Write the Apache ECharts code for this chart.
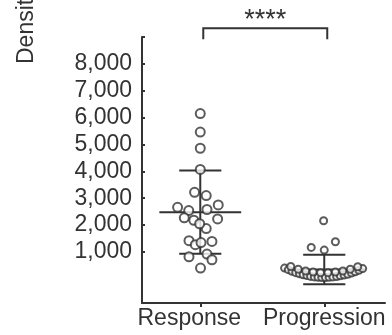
<!DOCTYPE html>
<html><head><meta charset="utf-8">
<script src="https://cdn.jsdelivr.net/npm/echarts@6/dist/echarts.min.js"></script>
<style>html,body{margin:0;padding:0;background:#fff}#c{width:392px;height:335px}</style>
</head><body><div id="c"></div>
<script>
const categories = ['Response', 'Progression'];
const yTickLabels = [1000, 2000, 3000, 4000, 5000, 6000, 7000, 8000];
const yTicks = [1000, 2000, 3000, 4000, 5000, 6000, 7000, 8000, 9000];
const yTitle = 'Density (cells/mm²)';
const significance = '****';
// Response: [horizontal jitter within group, value]
const responseJitter = [0.00, 0.00, 0.00, 0.00, -0.046, 0.048, 0.145, -0.183, -0.093, 0.054, -0.129, -0.052, 0.14, 0.048, -0.091, -0.04, 0.006, 0.094, -0.091, 0.054, 0.094, 0.002, -0.005];
const responseValues = [6150, 5460, 4860, 4070, 3220, 3100, 2750, 2660, 2540, 2580, 2270, 2180, 2230, 1870, 1420, 1270, 1350, 1390, 820, 920, 710, 400, 2050];
const progressionJitter = [-0.005, -0.105, 0.0, 0.09,
  -0.32, -0.29, -0.26, -0.23, -0.20, -0.17, -0.14, -0.11, -0.08, -0.05, -0.02, 0.01, 0.04, 0.07, 0.10, 0.13, 0.16, 0.19, 0.22, 0.25, 0.28, 0.31,
  -0.27, -0.21, -0.15, -0.09, -0.03, 0.03, 0.09, 0.15, 0.21, 0.27];
const progressionValues = [2160, 1170, 1070, 1380,
  400, 340, 280, 230, 190, 150, 120, 90, 70, 60, 50, 50, 55, 70, 85, 110, 140, 170, 215, 265, 320, 380,
  460, 360, 290, 250, 230, 230, 250, 290, 360, 450];
const means = [2480, 350];
const sds = [1550, 550];

const groupPos = [1, 2];
const respData = responseValues.map((v, i) => [groupPos[0] + responseJitter[i], v]);
const progData = progressionValues.map((v, i) => [groupPos[1] + progressionJitter[i], v]);
const errData = means.map((m, i) => [groupPos[i], m, sds[i]]);

const ink = '#333';
const chart = echarts.init(document.getElementById('c'));
const font = 'Liberation Sans, Arial, sans-serif';
chart.setOption({
  animation: false,
  grid: {left: 142, right: 7, top: 37, bottom: 32, containLabel: false},
  xAxis: {
    type: 'value', min: 0.53, max: 2.49,
    splitLine: {show: false},
    axisLine: {onZero: false, lineStyle: {color: ink, width: 2}},
    axisTick: {show: true, customValues: groupPos, length: 4, lineStyle: {color: ink, width: 2}},
    axisLabel: {
      customValues: groupPos, margin: 4, color: ink, fontSize: 23, fontFamily: font,
      formatter: v => v === 1 ? '{r|' + categories[0] + '}' : '{p|' + categories[1] + '}',
      rich: {r: {fontSize: 23, fontFamily: font, color: ink, padding: [0, 22, 0, 0]},
             p: {fontSize: 23, fontFamily: font, color: ink, padding: [0, 0, 0, 0]}}
    }
  },
  yAxis: {
    type: 'value', min: -900, max: 9000,
    splitLine: {show: false},
    axisLine: {show: true, onZero: false, lineStyle: {color: ink, width: 2}},
    axisTick: {show: true, inside: true, length: 3, customValues: yTicks, lineStyle: {color: ink, width: 2}},
    axisLabel: {
      customValues: yTickLabels, margin: 10, color: ink, fontSize: 23, fontFamily: font,
      formatter: v => v.toLocaleString('en-US')
    }
  },
  series: [
    {type: 'scatter', data: respData, symbol: 'emptyCircle', symbolSize: 9,
     itemStyle: {color: ink, borderColor: ink, borderWidth: 1.6}, z: 3},
    {type: 'scatter', data: progData, symbol: 'emptyCircle', symbolSize: 7,
     itemStyle: {color: ink, borderColor: ink, borderWidth: 1.4}, z: 3},
    {type: 'custom', data: errData, z: 2,
     renderItem: function (params, api) {
       const x = api.value(0), m = api.value(1), s = api.value(2);
       const pm = api.coord([x, m]);
       const pu = api.coord([x, m + s]);
       const pl = api.coord([x, m - s]);
       const half = api.size([0.33, 0])[0];
       const cap = api.size([0.17, 0])[0];
       const st = {stroke: ink, lineWidth: 2, fill: null};
       return {type: 'group', children: [
         {type: 'line', shape: {x1: pu[0], y1: pu[1], x2: pl[0], y2: pl[1]}, style: st},
         {type: 'line', shape: {x1: pm[0] - half, y1: pm[1], x2: pm[0] + half, y2: pm[1]}, style: st},
         {type: 'line', shape: {x1: pu[0] - cap, y1: pu[1], x2: pu[0] + cap, y2: pu[1]}, style: st},
         {type: 'line', shape: {x1: pl[0] - cap, y1: pl[1], x2: pl[0] + cap, y2: pl[1]}, style: st}
       ]};
     }}
  ]
});
const a = chart.convertToPixel({gridIndex: 0}, [groupPos[0], 9330]);
const b = chart.convertToPixel({gridIndex: 0}, [groupPos[1], 9330]);
const legY = chart.convertToPixel({gridIndex: 0}, [groupPos[0], 8920])[1];
chart.setOption({
  graphic: [
    {type: 'polyline', shape: {points: [[a[0] + 3, legY], [a[0] + 3, a[1]], [b[0] + 3, b[1]], [b[0] + 3, legY]]},
     style: {stroke: ink, lineWidth: 2, fill: null}},
    {type: 'text', x: (a[0] + b[0]) / 2 + 3, y: a[1] + 6,
     style: {text: significance, fill: ink, fontSize: 27, fontFamily: font, textAlign: 'center', textVerticalAlign: 'bottom'}},
    {type: 'text', x: 27, y: 64, rotation: Math.PI / 2,
     style: {text: yTitle, fill: ink, fontSize: 23, fontFamily: font, textAlign: 'left', textVerticalAlign: 'middle'}}
  ]
});
</script></body></html>
